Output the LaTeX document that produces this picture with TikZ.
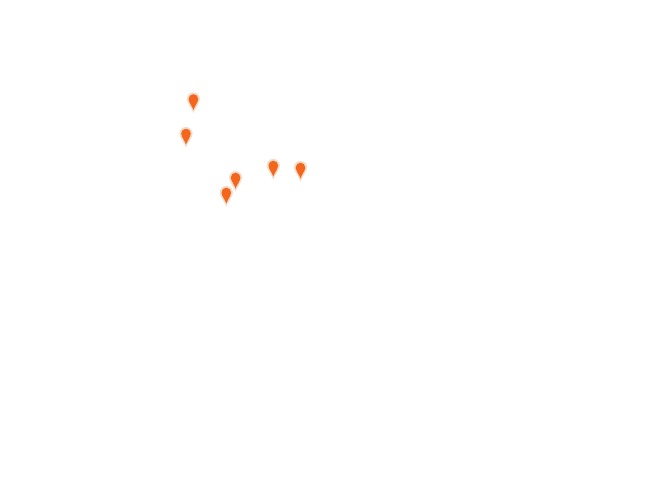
\documentclass[tikz,border=0pt]{standalone}
\usepackage{xcolor}
\definecolor{pinorange}{HTML}{F4661B}
\definecolor{pinhalo}{HTML}{F1DDCB}
\tikzset{
  pin halo/.style={fill=pinhalo, draw=none},
  pin core/.style={fill=pinorange, draw=none},
  map pin/.pic={
    \path[pin halo] (0,0) .. controls (-1.2,-4) and (-6.6,-10) .. (-6.6,-14) arc (180:360:6.6) .. controls (6.6,-10) and (1.2,-4) .. (0,0) -- cycle;
    \path[pin core] (0,-3) .. controls (-0.8,-6) and (-4.8,-11) .. (-4.8,-14) arc (180:360:4.8) .. controls (4.8,-11) and (0.8,-6) .. (0,-3) -- cycle;
  }
}
\begin{document}
\begin{tikzpicture}[x=0.75pt, y=-0.75pt]
\path[use as bounding box, fill=white] (0,0) rectangle (668,500);
% pins, by their tips
\foreach \px/\py in {193.4/113, 186/147.5, 235.6/191.5, 226.3/206.5, 273.3/179.5, 300.5/181.5}
  \pic at (\px,\py) {map pin};
\end{tikzpicture}
\end{document}
